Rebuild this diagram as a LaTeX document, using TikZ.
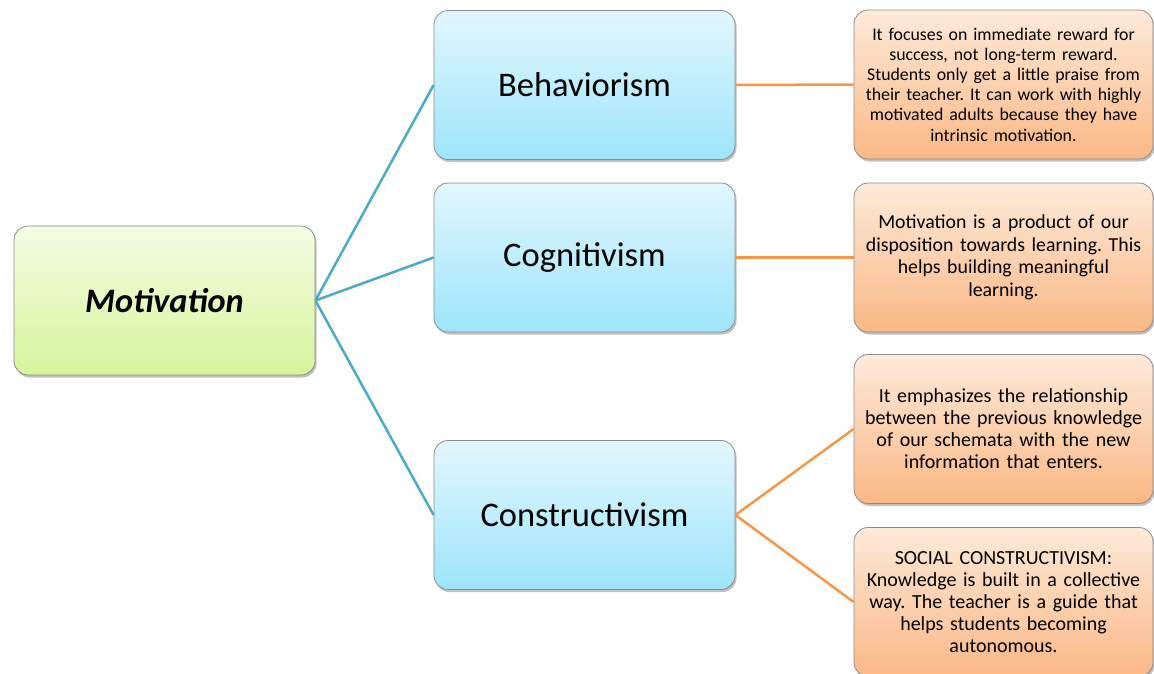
\documentclass[tikz,border=0pt]{standalone}
\usepackage{fontspec}
\setmainfont{Carlito}
\usetikzlibrary{shadows}
\frenchspacing
\definecolor{linkblue}{HTML}{4BACC6}
\definecolor{linkorange}{HTML}{F79646}
\definecolor{boxedge}{HTML}{8C8C8C}
\tikzset{
  box/.style={draw=boxedge, line width=0.8pt, rounded corners=14pt,
    minimum width=301pt, minimum height=149pt, inner sep=0pt, align=center,
    drop shadow={shadow xshift=1.5pt, shadow yshift=-2.5pt, opacity=0.35, fill=black!70}},
  rootbox/.style={box, top color={rgb,255:red,244;green,252;blue,228}, bottom color={rgb,255:red,214;green,245;blue,156}},
  themebox/.style={box, top color={rgb,255:red,226;green,247;blue,253}, bottom color={rgb,255:red,157;green,229;blue,251},
    font=\fontsize{34.5}{38}\selectfont},
  notebox/.style={box, minimum width=299pt, top color={rgb,255:red,253;green,234;blue,217}, bottom color={rgb,255:red,250;green,184;blue,133}},
  bluelink/.style={draw=linkblue, line width=2.5pt},
  orangelink/.style={draw=linkorange, line width=2.5pt}
}
\begin{document}
\begin{tikzpicture}[x=1pt,y=-1pt]
\useasboundingbox (0,0) rectangle (1154,673);
\fill[white] (0,0) rectangle (1154,673);

% central concept
\node[rootbox, font=\fontsize{34.3}{38}\selectfont\bfseries\itshape] (motiv) at (164.5,300.5) {Motivation};

% theories
\node[themebox] (behav) at (584.5,85) {Behaviorism};
\node[themebox] (cogn) at (584.5,257.5) {Cognitivism};
\node[themebox] (constr) at (584.5,515) {Constructivism};

% descriptions
\node[notebox, font=\fontsize{17.8}{20.2}\selectfont, text width=295pt] (dbehav) at (1003.5,84.5)
  {It focuses on immediate reward for\\ success, not long-term reward.\\ Students only get a little praise from\\ their teacher. It can work with highly\\ motivated adults because they have\\ intrinsic motivation.};
\node[notebox, font=\fontsize{19.8}{22.5}\selectfont, text width=297pt] (dcogn) at (1003.5,257.5)
  {Motivation is a product of our\\ disposition towards learning. This\\ helps building meaningful\\ learning.};
\node[notebox, font=\fontsize{20}{22}\selectfont, text width=297pt] (dconstr) at (1003.5,429)
  {It emphasizes the relationship\\ between the previous knowledge\\ of our schemata with the new\\ information that enters.};
\node[notebox, font=\fontsize{20}{22}\selectfont, text width=297pt] (dsocial) at (1003.5,602)
  {SOCIAL CONSTRUCTIVISM:\\ Knowledge is built in a collective\\ way. The teacher is a guide that\\ helps students becoming\\ autonomous.};

% connectors
\draw[bluelink] (motiv.east) -- (behav.west);
\draw[bluelink] (motiv.east) -- (cogn.west);
\draw[bluelink] (motiv.east) -- (constr.west);
\draw[orangelink] (behav.east) -- (dbehav.west);
\draw[orangelink] (cogn.east) -- (dcogn.west);
\draw[orangelink] (constr.east) -- (dconstr.west);
\draw[orangelink] (constr.east) -- (dsocial.west);
\end{tikzpicture}
\end{document}
